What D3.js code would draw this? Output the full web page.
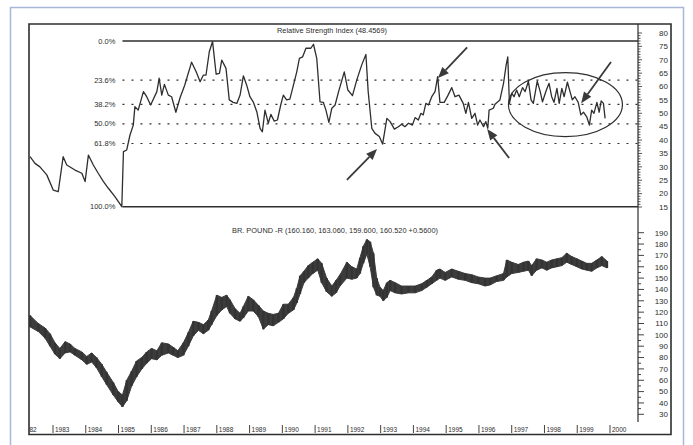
<!DOCTYPE html>
<html><head><meta charset="utf-8">
<script src="https://cdn.jsdelivr.net/npm/d3@7"></script>
<style>body{margin:0;background:#fff}svg{display:block;font-family:"Liberation Sans",Arial,sans-serif}</style>
</head><body><svg id="c" width="693" height="445"></svg>
<script>
// ---------------- data ----------------
const rsiYears=[1982.30,1982.45,1982.60,1982.81,1983.01,1983.16,1983.31,1983.42,1983.67,1983.88,1983.98,1984.08,1984.23,1984.38,1984.54,1984.69,1984.89,1985.10,1985.15,1985.25,1985.35,1985.45,1985.50,1985.60,1985.76,1985.86,1985.98,1986.17,1986.24,1986.32,1986.40,1986.52,1986.62,1986.75,1986.88,1987.02,1987.23,1987.37,1987.49,1987.59,1987.67,1987.77,1987.87,1987.98,1988.08,1988.15,1988.28,1988.38,1988.50,1988.61,1988.71,1988.81,1988.91,1989.01,1989.11,1989.22,1989.32,1989.39,1989.47,1989.57,1989.65,1989.75,1989.85,1989.95,1990.03,1990.13,1990.23,1990.34,1990.44,1990.52,1990.62,1990.72,1990.87,1990.95,1991.05,1991.15,1991.25,1991.33,1991.42,1991.51,1991.61,1991.71,1991.89,1992.00,1992.14,1992.27,1992.42,1992.55,1992.62,1992.73,1992.83,1992.96,1993.06,1993.19,1993.29,1993.42,1993.54,1993.64,1993.74,1993.85,1993.97,1994.05,1994.15,1994.23,1994.30,1994.38,1994.46,1994.56,1994.66,1994.74,1994.81,1994.94,1995.05,1995.17,1995.27,1995.39,1995.52,1995.60,1995.68,1995.78,1995.88,1995.96,1996.03,1996.14,1996.21,1996.27,1996.31,1996.44,1996.49,1996.64,1996.75,1996.83,1996.88,1996.93,1997.00,1997.07,1997.15,1997.23,1997.33,1997.41,1997.51,1997.59,1997.66,1997.78,1997.87,1997.94,1998.05,1998.14,1998.22,1998.29,1998.38,1998.45,1998.53,1998.60,1998.70,1998.78,1998.85,1998.93,1999.03,1999.11,1999.19,1999.29,1999.37,1999.44,1999.51,1999.60,1999.67,1999.73,1999.80,1999.85];
const rsiValues=[33.8,31.3,30.0,27.0,21.3,20.7,33.8,30.7,28.8,27.6,24.5,34.4,30.7,27.6,24.5,22.0,18.9,15.1,35.7,36.3,41.9,45.6,52.5,51.2,58.1,56.2,53.1,58.1,63.1,56.8,60.8,56.8,56.2,50.4,55.9,60.5,69.1,65.5,61.8,64.3,64.3,73.0,76.8,64.6,64.9,69.9,66.8,55.0,54.1,53.7,56.8,64.0,60.6,56.2,54.3,50.6,44.4,43.1,51.2,46.3,49.6,47.1,47.5,53.1,56.8,55.0,55.3,60.6,65.5,70.5,71.1,74.3,74.3,75.8,70.5,54.3,54.1,51.2,46.6,51.9,53.1,57.8,65.5,58.7,56.6,62.4,68.0,72.0,58.1,44.4,42.5,41.3,38.5,48.1,46.9,44.1,45.0,45.9,45.0,46.3,45.6,48.4,47.5,50.0,49.4,53.7,53.1,56.2,58.1,63.7,54.1,54.1,56.6,59.6,56.2,56.8,53.7,50.0,54.1,48.1,50.0,45.6,47.5,45.0,46.9,44.4,51.2,51.9,53.4,55.0,61.2,68.0,71.1,53.7,57.5,56.2,58.7,56.2,59.6,58.1,62.0,55.0,53.7,62.0,58.1,54.3,58.4,61.2,56.2,54.1,59.3,53.7,59.3,56.2,61.6,58.1,55.0,56.2,54.1,49.4,50.4,48.7,45.6,51.2,50.0,54.1,50.4,54.6,53.7,48.1];

const priceYears=[1982.30,1982.55,1982.76,1982.91,1983.06,1983.21,1983.37,1983.52,1983.67,1983.88,1984.03,1984.18,1984.33,1984.49,1984.64,1984.84,1984.99,1985.12,1985.25,1985.40,1985.55,1985.71,1985.86,1986.01,1986.17,1986.32,1986.52,1986.67,1986.81,1986.98,1987.13,1987.28,1987.44,1987.59,1987.74,1987.84,1988.00,1988.15,1988.30,1988.40,1988.56,1988.71,1988.81,1988.96,1989.11,1989.27,1989.42,1989.57,1989.72,1989.88,1990.03,1990.18,1990.34,1990.44,1990.54,1990.66,1990.79,1990.93,1991.08,1991.20,1991.35,1991.51,1991.64,1991.76,1991.97,1992.12,1992.27,1992.37,1992.47,1992.58,1992.68,1992.78,1992.88,1992.98,1993.08,1993.19,1993.29,1993.44,1993.64,1993.85,1994.05,1994.25,1994.41,1994.56,1994.71,1994.81,1994.97,1995.17,1995.37,1995.58,1995.78,1995.98,1996.19,1996.34,1996.54,1996.75,1996.85,1997.00,1997.20,1997.36,1997.51,1997.61,1997.76,1997.92,1998.07,1998.22,1998.38,1998.53,1998.68,1998.83,1998.99,1999.14,1999.29,1999.44,1999.60,1999.75,1999.91];
const priceHigh=[117,110,106,101,93,88,94,92,88,85,81,84,80,74,67,58,50,47,60,68,77,80,85,88,86,93,92,89,86,93,102,112,111,109,113,121,135,133,135,131,123,119,125,134,131,126,121,119,118,119,127,127,133,141,152,156,161,164,167,163,150,143,148,153,164,160,158,168,178,184,182,172,150,142,139,146,148,146,143,143,143,145,148,151,157,158,155,158,156,154,153,151,150,150,152,154,166,164,162,164,165,161,167,166,164,166,167,168,172,169,167,165,163,163,166,169,165];
const priceLow=[107,103,97,90,83,79,84,85,82,78,74,76,71,63,56,47,41,36.5,42,55,63,70,75,79,78,82,84,82,80,82,90,99,104,101,104,109,117,122,125,119,114,112,115,121,121,116,105,109,108,111,114,119,122,128,136,146,150,154,157,146,138,134,137,143,150,149,150,154,163,171,160,142,135,134,130,133,139,137,136,137,137,139,142,145,148,150,148,151,149,148,146,145,143,144,147,148,151,154,155,156,157,152,157,159,157,159,160,161,164,162,160,158,157,156,159,161,159];

const rsiTicks=[15,20,25,30,35,40,45,50,55,60,65,70,75,80];
const priceTicks=[30,40,50,60,70,80,90,100,110,120,130,140,150,160,170,180,190];
const yearTicks=[1982,1983,1984,1985,1986,1987,1988,1989,1990,1991,1992,1993,1994,1995,1996,1997,1998,1999,2000];
const fibLevels=[0,23.6,38.2,50,61.8,100];
const fibLabels=["0.0%","23.6%","38.2%","50.0%","61.8%","100.0%"];
const fibHigh=77, fibLow=15.1, fibStart=1985.12;
const rsiTitle="Relative Strength Index (48.4569)";
const priceTitle="BR. POUND -R (160.160, 163.060, 159.600, 160.520 +0.5600)";
// annotations in data coordinates [year, rsi]
const arrowTails=[[1991.97,25.1],[1995.64,74.6],[1996.92,33.3],[2000.03,69.2]];
const arrowHeads=[[1992.89,36.7],[1994.75,63.2],[1996.25,44.1],[1999.12,53.8]];
const ellipseBox={t0:1996.90,t1:2000.38,v0:41.3,v1:65.2};

// ---------------- layout ----------------
const svg=d3.select("#c");
const L=29,T=24,R=671,B=434.5,PR=638;
const ink="#2e2e2e";
const x=d3.scaleLinear().domain([1983,2000]).range([53,610]);
const yR=d3.scaleLinear().domain([15,80]).range([207,33]);
const yP=d3.scaleLinear().domain([30,190]).range([414.3,232.7]);

svg.append("path").attr("d",`M10.5,445 V7.5 H683.5 V445`).attr("fill","none").attr("stroke","#a9b6da").attr("stroke-width",1.5);
svg.append("defs").append("clipPath").attr("id","clp").append("rect").attr("x",L).attr("y",T).attr("width",PR-L).attr("height",B-T);

svg.append("path").attr("d",`M${L},${T} H${R} V${B} H${L} Z`).attr("fill","none").attr("stroke",ink).attr("stroke-width",1.6);
svg.append("line").attr("x1",PR).attr("x2",PR).attr("y1",T).attr("y2",422).attr("stroke",ink).attr("stroke-width",1.2);

const rsiMinor=d3.range(15,81,1);
svg.append("g").selectAll("line").data(rsiMinor).join("line")
 .attr("x1",PR).attr("x2",d=>PR+(d%5===0?4:2.5)).attr("y1",d=>yR(d)).attr("y2",d=>yR(d))
 .attr("stroke",ink).attr("stroke-width",0.8);
svg.append("g").selectAll("text").data(rsiTicks).join("text")
 .attr("x",668).attr("y",d=>yR(d)+2.8).attr("text-anchor","end").attr("font-size",8).attr("fill",ink).text(d=>d);
const priceMinor=d3.range(30,191,5);
svg.append("g").selectAll("line").data(priceMinor).join("line")
 .attr("x1",PR).attr("x2",d=>PR+(d%10===0?6:3)).attr("y1",d=>yP(d)).attr("y2",d=>yP(d))
 .attr("stroke",ink).attr("stroke-width",0.9);
svg.append("g").selectAll("text").data(priceTicks).join("text")
 .attr("x",668).attr("y",d=>yP(d)+2.8).attr("text-anchor","end").attr("font-size",8).attr("fill",ink).text(d=>d);

const xg=svg.append("g").attr("clip-path","url(#clp)");
yearTicks.forEach(yr=>{
  xg.append("line").attr("x1",x(yr)).attr("x2",x(yr)).attr("y1",425).attr("y2",433).attr("stroke",ink).attr("stroke-width",0.9);
  xg.append("text").attr("x",x(yr)+2).attr("y",432).attr("font-size",6.5).attr("fill",ink).text(yr);
});

svg.append("text").attr("x",332).attr("y",33).attr("text-anchor","middle").attr("font-size",7).attr("fill",ink)
 .attr("textLength",110).attr("lengthAdjust","spacingAndGlyphs").text(rsiTitle);
svg.append("text").attr("x",335).attr("y",233).attr("text-anchor","middle").attr("font-size",7).attr("fill",ink)
 .attr("textLength",206).attr("lengthAdjust","spacingAndGlyphs").text(priceTitle);

const fibY=p=>yR(fibHigh-(fibHigh-fibLow)*p/100);
fibLevels.forEach((p,i)=>{
  const solid=(p===0||p===100);
  svg.append("line").attr("x1",x(fibStart)).attr("x2",PR).attr("y1",fibY(p)).attr("y2",fibY(p))
   .attr("stroke",ink).attr("stroke-width",solid?1.4:1.1).attr("stroke-dasharray",solid?null:"2,7");
  svg.append("text").attr("x",x(fibStart)-7).attr("y",fibY(p)+2.5).attr("text-anchor","end").attr("font-size",7.5).attr("fill",ink).text(fibLabels[i]);
});

const rsiData=rsiYears.map((t,i)=>[t,rsiValues[i]]);
svg.append("path").datum(rsiData).attr("clip-path","url(#clp)")
 .attr("d",d3.line().x(d=>x(d[0])).y(d=>yR(d[1])))
 .attr("fill","none").attr("stroke",ink).attr("stroke-width",1.3).attr("stroke-linejoin","round");

// price: band between high and low, with bar strokes for texture
const pd=priceYears.map((t,i)=>({t,h:priceHigh[i],l:priceLow[i]}));
const pg=svg.append("g").attr("clip-path","url(#clp)");
pg.append("path").datum(pd)
 .attr("d",d3.area().x(d=>x(d.t)).y0(d=>yP(d.l)).y1(d=>yP(d.h)))
 .attr("fill","#3c3c3c").attr("stroke","#3c3c3c").attr("stroke-width",1);
pg.selectAll("line").data(pd).join("line")
 .attr("x1",d=>x(d.t)).attr("x2",d=>x(d.t))
 .attr("y1",d=>yP(d.h)).attr("y2",d=>yP(d.l))
 .attr("stroke","#333").attr("stroke-width",2.2);

svg.append("ellipse")
 .attr("cx",(x(ellipseBox.t0)+x(ellipseBox.t1))/2).attr("cy",(yR(ellipseBox.v0)+yR(ellipseBox.v1))/2)
 .attr("rx",(x(ellipseBox.t1)-x(ellipseBox.t0))/2).attr("ry",(yR(ellipseBox.v0)-yR(ellipseBox.v1))/2)
 .attr("fill","none").attr("stroke",ink).attr("stroke-width",1.2);
arrowTails.forEach((tl,i)=>{
  const hd=arrowHeads[i];
  const x1=x(tl[0]),y1=yR(tl[1]),x2=x(hd[0]),y2=yR(hd[1]);
  const a=Math.atan2(y2-y1,x2-x1), len=11, w=4.5;
  const bx=x2-len*Math.cos(a), by=y2-len*Math.sin(a);
  svg.append("line").attr("x1",x1).attr("y1",y1).attr("x2",bx).attr("y2",by).attr("stroke","#3a3a3a").attr("stroke-width",1.8);
  svg.append("path").attr("d",`M${x2},${y2} L${bx+w*Math.sin(a)},${by-w*Math.cos(a)} L${bx-w*Math.sin(a)},${by+w*Math.cos(a)} Z`).attr("fill","#3a3a3a");
});
</script></body></html>
